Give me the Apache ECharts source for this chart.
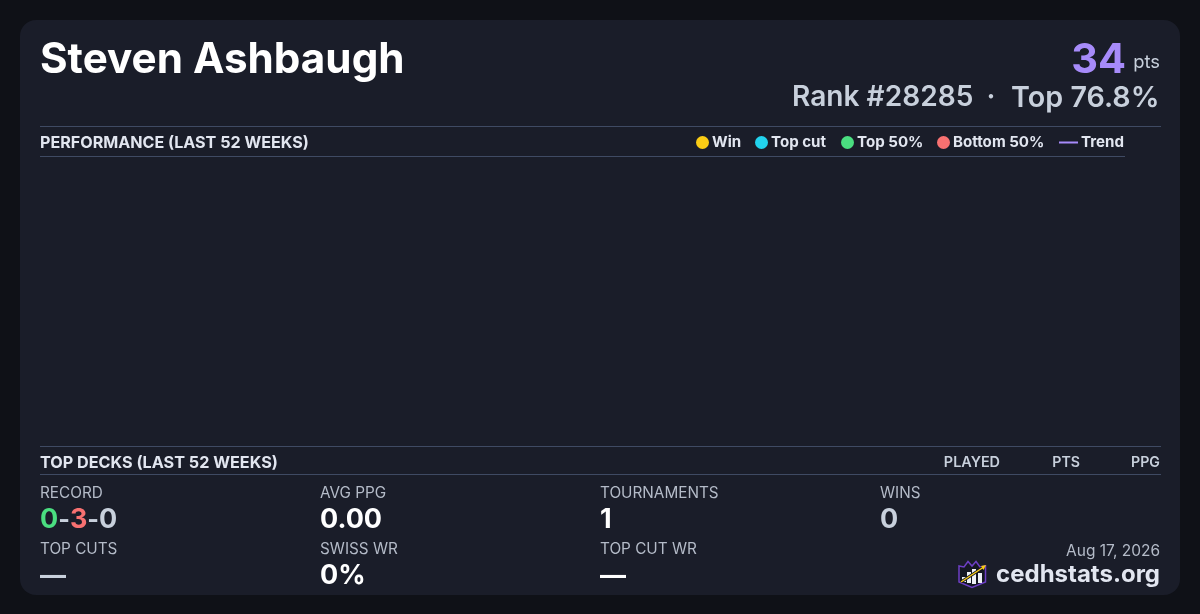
<!DOCTYPE html>
<html><head><meta charset="utf-8">
<style>html,body{margin:0;padding:0;background:#0f1117;width:1200px;height:614px;overflow:hidden}#c{width:1200px;height:614px}</style>
<script src="https://cdn.jsdelivr.net/npm/echarts@6/dist/echarts.min.js"></script>
</head><body><div id="c"></div>
<script>
const playerName = 'Steven Ashbaugh';
const points = '34';
const rankText = 'Rank #28285';
const topText = 'Top 76.8%';
const legendNames = ['Win','Top cut','Top 50%','Bottom 50%','Trend'];
const legendColors = ['#facc15','#22d3ee','#4ade80','#f87171','#a78bfa'];
const legendLefts = [696,755,841,937,1059];
const winsSeries = [], topCutSeries = [], top50Series = [], bottom50Series = [], trendSeries = [];
const deckColumns = ['PLAYED','PTS','PPG'];
const statLabels = ['RECORD','AVG PPG','TOURNAMENTS','WINS','TOP CUTS','SWISS WR','TOP CUT WR'];
const statValues = ['', '0.00','1','0','—','0%','—'];
const F = 'Inter, "Noto Sans", sans-serif';
const t = (x,y,text,size,weight,fill,align) => ({type:'text',silent:true,x,y,style:{text,font:`${weight} ${size}px ${F}`,fill,textAlign:align||'left',textVerticalAlign:'middle'}});
const rule = (x1,x2,y) => ({type:'rect',silent:true,shape:{x:x1,y:y,width:x2-x1,height:1},style:{fill:'#3f4a63'}});
const LAB = '#b4bbc8';
const g = [
 {type:'rect',silent:true,z:-1,shape:{x:20,y:20,width:1160,height:575,r:16},style:{fill:'#1a1d29'}},
 t(40,60,playerName,42.2,700,'#ffffff'),
 t(1126,61,points,41.5,700,'#a78bfa','right'),
 t(1160,62.5,'pts',18.4,400,'#c8d0dc','right'),
 t(792,98,rankText,28.1,600,'#c8d0dc'),
 t(991,98,'·',28,600,'#c8d0dc','center'),
 t(1159.5,98,topText,28.7,600,'#c8d0dc','right'),
 rule(40,1161,126), rule(40,1125,156), rule(40,1161,446), rule(40,1161,474),
 t(40,143,'PERFORMANCE (LAST 52 WEEKS)',16.12,700,'#e2e6f0'),
 t(40,463,'TOP DECKS (LAST 52 WEEKS)',16.2,700,'#e2e6f0'),
 t(1000,463,deckColumns[0],14.4,600,'#c8d0dc','right'),
 t(1080,463,deckColumns[1],14.2,600,'#c8d0dc','right'),
 t(1160,463,deckColumns[2],14.2,600,'#c8d0dc','right'),
 t(40,493,statLabels[0],15.3,400,LAB),
 t(320,493,statLabels[1],15.3,400,LAB),
 t(600,493,statLabels[2],15.3,400,LAB),
 t(880,493,statLabels[3],15.3,400,LAB),
 t(40,549,statLabels[4],15.3,400,LAB),
 t(320,549,statLabels[5],15.3,400,LAB),
 t(600,549,statLabels[6],15.3,400,LAB),
 {type:'text',silent:true,x:40,y:520,style:{text:'{a|0}{b|-}{c|3}{b|-}{d|0}',textVerticalAlign:'middle',rich:{
   a:{font:`700 27px ${F}`,fill:'#4ade80'},b:{font:`700 25px ${F}`,fill:'#c8d0dc'},c:{font:`700 27px ${F}`,fill:'#f87171'},d:{font:`700 27px ${F}`,fill:'#c8d0dc'}}}},
 t(320,520,statValues[1],27,700,'#ffffff'),
 t(600,520,statValues[2],27,700,'#ffffff'),
 t(880,520,statValues[3],27,700,'#c8d0dc'),
 t(40,576,statValues[4],26,700,'#c8d0dc'),
 t(320,576,statValues[5],27,700,'#ffffff'),
 t(600,576,statValues[6],26,700,'#ffffff'),
 t(1160,551,'Aug 17, 2026',15.5,400,LAB,'right'),
 t(1160,575,'cedhstats.org',24,700,'#e2e6f0','right'),
 // logo
 {type:'polygon',silent:true,shape:{points:[[959,566],[964,567],[968,561.5],[972,566],[976,561.5],[980,567],[985.5,566],[985.5,582],[972,587.5],[959,582]]},style:{fill:'#141722',stroke:'#6d3fc4',lineWidth:1.5}},
 {type:'rect',silent:true,shape:{x:962,y:577,width:4,height:5},style:{fill:'#eef1f6'}},
 {type:'rect',silent:true,shape:{x:967,y:572,width:4,height:11},style:{fill:'#eef1f6'}},
 {type:'rect',silent:true,shape:{x:972,y:569,width:4,height:15},style:{fill:'#eef1f6'}},
 {type:'rect',silent:true,shape:{x:978,y:573,width:4,height:10},style:{fill:'#eef1f6'}},
 {type:'line',silent:true,shape:{x1:961,y1:582,x2:983,y2:567.5},style:{stroke:'#141722',lineWidth:3}},
 {type:'line',silent:true,shape:{x1:961,y1:582,x2:983,y2:567.5},style:{stroke:'#facc15',lineWidth:1.4}},
 {type:'polygon',silent:true,shape:{points:[[986,565],[981,566],[983.5,570]]},style:{fill:'#facc15'}}
];
const seriesData = [winsSeries,topCutSeries,top50Series,bottom50Series];
const series = seriesData.map((d,i)=>({name:legendNames[i],type:'scatter',data:d,itemStyle:{color:legendColors[i],opacity:1}}));
series.push({name:legendNames[4],type:'line',data:trendSeries,showSymbol:false,itemStyle:{color:legendColors[4]},lineStyle:{color:legendColors[4],width:2}});
const legends = legendNames.map((n,i)=>({
  data:[i<4?{name:n,icon:'circle'}:{name:n,icon:'rect'}],
  left:legendLefts[i],top:135,padding:0,
  itemWidth:i<4?13:19,itemHeight:i<4?13:2,itemGap:0,
  selectedMode:false,
  textStyle:{color:'#e2e6f0',fontFamily:F,fontSize:15.1,fontWeight:700,padding:[0,0,0,-2]}
}));
const chart = echarts.init(document.getElementById('c'),null,{renderer:'canvas'});
chart.setOption({
  animation:false,backgroundColor:'#0f1117',
  grid:{left:40,right:75,top:157,bottom:168},
  xAxis:{type:'time',show:false},yAxis:{type:'value',show:false},
  legend:legends,series,graphic:{elements:g}
});
</script></body></html>
